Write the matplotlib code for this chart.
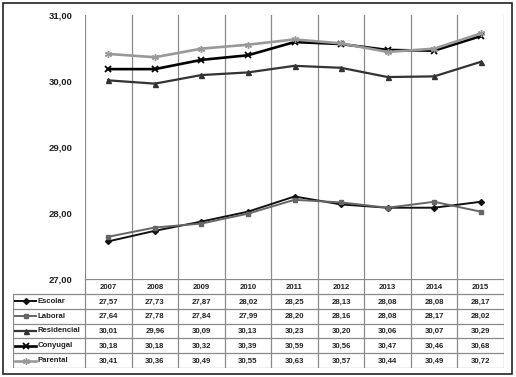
import matplotlib
matplotlib.use("Agg")
import matplotlib.pyplot as plt
from matplotlib.lines import Line2D
from matplotlib.patches import Rectangle

plt.rcParams['font.family'] = ['Liberation Sans', 'DejaVu Sans']

years = ['2007', '2008', '2009', '2010', '2011', '2012', '2013', '2014', '2015']
series_names = ['Escolar', 'Laboral', 'Residencial', 'Conyugal', 'Parental']
escolar = [27.57, 27.73, 27.87, 28.02, 28.25, 28.13, 28.08, 28.08, 28.17]
laboral = [27.64, 27.78, 27.84, 27.99, 28.20, 28.16, 28.08, 28.17, 28.02]
residencial = [30.01, 29.96, 30.09, 30.13, 30.23, 30.20, 30.06, 30.07, 30.29]
conyugal = [30.18, 30.18, 30.32, 30.39, 30.59, 30.56, 30.47, 30.46, 30.68]
parental = [30.41, 30.36, 30.49, 30.55, 30.63, 30.57, 30.44, 30.49, 30.72]
yticks = [27, 28, 29, 30, 31]

values = [escolar, laboral, residencial, conyugal, parental]
styles = [
    dict(color='#111111', marker='D', ms=3.0, lw=1.4),
    dict(color='#666666', marker='s', ms=3.2, lw=1.4),
    dict(color='#333333', marker='^', ms=3.6, lw=1.6),
    dict(color='#000000', marker='x', ms=4.5, lw=1.9, mew=1.3),
    dict(color='#999999', marker=(6, 2, 0), ms=5.0, lw=1.9, mew=1.0),
]

W, H = 516, 377
fig = plt.figure(figsize=(W / 100, H / 100), dpi=100)

def fx(px):
    return px / W

def fy(py):
    return 1 - py / H

x0, x1 = 85, 504
ytop, ybot = 15, 279
tab_left, tab_bot = 13, 368

ax = fig.add_axes([fx(x0), fy(ybot), fx(x1) - fx(x0), fy(ytop) - fy(ybot)])
n = len(years)
xs = list(range(n))
for vals, st in zip(values, styles):
    ax.plot(xs, vals, zorder=3, **st)
ax.set_xlim(-0.5, n - 0.5)
ax.set_ylim(27, 31)
for b in range(n + 1):
    ax.axvline(b - 0.5, color='#8a8a8a', lw=0.9, zorder=1)
ax.set_yticks(yticks)
ax.set_yticklabels([f'{v:.2f}'.replace('.', ',') for v in yticks],
                   fontsize=6.8, fontweight='bold', color='#222222')
ax.tick_params(axis='y', length=0, pad=9)
ax.set_xticks([])
for s in ax.spines.values():
    s.set_visible(False)

# data table below the plot
unit = (x1 - x0) / n
lab_w = (x0 - tab_left) / unit
tax = fig.add_axes([fx(tab_left), fy(tab_bot), fx(x1) - fx(tab_left), fy(ybot) - fy(tab_bot)])
tax.set_xlim(-0.5 - lab_w, n - 0.5)
rows = len(series_names) + 1
tax.set_ylim(rows, 0)
tax.axis('off')
gc = '#8a8a8a'
tax.plot([-0.5, n - 0.5], [0, 0], color=gc, lw=0.9)
for r in range(1, rows + 1):
    tax.plot([-0.5 - lab_w, n - 0.5], [r, r], color=gc, lw=0.9)
tax.plot([-0.5 - lab_w] * 2, [1, rows], color=gc, lw=0.9)
for b in range(n + 1):
    tax.plot([b - 0.5] * 2, [0, rows], color=gc, lw=0.9)
for i, yr in enumerate(years):
    tax.text(i, 0.55, yr, ha='center', va='center', fontsize=5.6,
             fontweight='bold', color='#222222')
for r, (name, vals, st) in enumerate(zip(series_names, values, styles), start=1):
    kx0 = -0.5 - lab_w + 0.05
    kx1 = kx0 + 0.45
    tax.plot([kx0, kx1], [r + 0.5, r + 0.5], color=st['color'], lw=st['lw'])
    tax.plot([(kx0 + kx1) / 2], [r + 0.5], color=st['color'], marker=st['marker'],
             ms=st['ms'], mew=st.get('mew', 1.0), ls='none')
    tax.text(kx1 + 0.02, r + 0.5, name, ha='left', va='center', fontsize=5.6,
             fontweight='bold', color='#222222')
    for i, v in enumerate(vals):
        tax.text(i, r + 0.55, f'{v:.2f}'.replace('.', ','), ha='center', va='center',
                 fontsize=5.6, fontweight='bold', color='#222222')

fig.add_artist(Rectangle((fx(3), fy(374)), fx(512) - fx(3), fy(3) - fy(374),
                         transform=fig.transFigure, fill=False, ec='#222222', lw=1.2))

fig.savefig('out.png', dpi=100)
